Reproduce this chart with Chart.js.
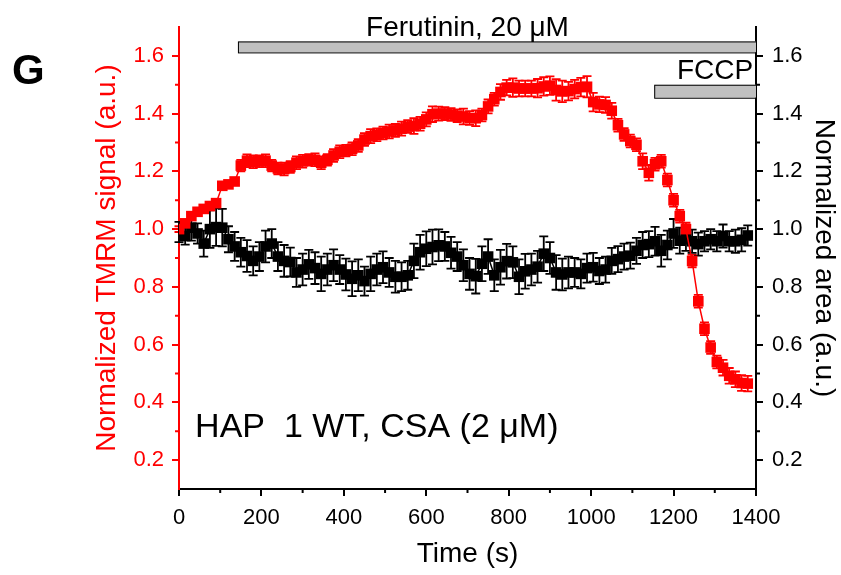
<!DOCTYPE html>
<html>
<head>
<meta charset="utf-8">
<script src="https://cdn.jsdelivr.net/npm/chart.js@4.4.1/dist/chart.umd.min.js"></script>
<style>
  html, body { margin: 0; padding: 0; background: #fff; }
  canvas { display: block; }
</style>
</head>
<body>
<canvas id="chart_tmrm" width="841" height="575"></canvas>
<script>
// time points (s)
const time = [0, 15, 30, 45, 60, 75, 90, 105, 120, 135,
  150, 165, 180, 195, 210, 225, 240, 255, 270, 285,
  300, 315, 330, 345, 360, 375, 390, 405, 420, 435,
  450, 465, 480, 495, 510, 525, 540, 555, 570, 585,
  600, 615, 630, 645, 660, 675, 690, 705, 720, 735,
  750, 765, 780, 795, 810, 825, 840, 855, 870, 885,
  900, 915, 930, 945, 960, 975, 990, 1005, 1020, 1035,
  1050, 1065, 1080, 1095, 1110, 1125, 1140, 1155, 1170, 1185,
  1200, 1215, 1230, 1245, 1260, 1275, 1290, 1305, 1320, 1335,
  1350, 1365, 1380];

// normalized TMRM signal (left axis, red)
const tmrm = [1.00, 1.02, 1.045, 1.06, 1.07, 1.08, 1.09, 1.15, 1.155, 1.165,
  1.22, 1.237, 1.233, 1.235, 1.237, 1.22, 1.21, 1.208, 1.215, 1.23,
  1.235, 1.24, 1.24, 1.23, 1.24, 1.255, 1.268, 1.272, 1.278, 1.29,
  1.31, 1.322, 1.327, 1.333, 1.338, 1.342, 1.348, 1.355, 1.357, 1.365,
  1.38, 1.398, 1.40, 1.40, 1.397, 1.393, 1.39, 1.385, 1.384, 1.395,
  1.425, 1.45, 1.475, 1.49, 1.49, 1.487, 1.487, 1.487, 1.488, 1.494,
  1.497, 1.482, 1.477, 1.478, 1.485, 1.492, 1.493, 1.44, 1.432, 1.43,
  1.41, 1.36, 1.328, 1.305, 1.292, 1.235, 1.195, 1.225, 1.235, 1.17,
  1.10, 1.045, 1.0, 0.89, 0.75, 0.655, 0.59, 0.54, 0.52, 0.492,
  0.48, 0.467, 0.465];
const tmrmErr = [0.01, 0.01, 0.01, 0.01, 0.01, 0.01, 0.01, 0.012, 0.012, 0.012,
  0.02, 0.022, 0.022, 0.02, 0.022, 0.02, 0.02, 0.022, 0.02, 0.022,
  0.022, 0.02, 0.022, 0.022, 0.02, 0.022, 0.022, 0.02, 0.022, 0.022,
  0.022, 0.024, 0.022, 0.022, 0.024, 0.022, 0.024, 0.022, 0.027, 0.024,
  0.024, 0.027, 0.024, 0.022, 0.022, 0.022, 0.027, 0.024, 0.027, 0.022,
  0.024, 0.022, 0.027, 0.027, 0.032, 0.027, 0.027, 0.027, 0.032, 0.032,
  0.032, 0.037, 0.037, 0.032, 0.032, 0.032, 0.037, 0.032, 0.027, 0.027,
  0.027, 0.022, 0.022, 0.022, 0.022, 0.027, 0.027, 0.022, 0.022, 0.022,
  0.022, 0.022, 0.022, 0.022, 0.022, 0.022, 0.022, 0.022, 0.027, 0.027,
  0.027, 0.027, 0.027];

// normalized area (right axis, black)
const area = [0.99, 0.976, 1.005, 0.985, 0.95, 1.0, 1.007, 1.005, 0.965, 0.94,
  0.92, 0.907, 0.89, 0.905, 0.94, 0.95, 0.905, 0.89, 0.886, 0.85,
  0.86, 0.878, 0.865, 0.845, 0.86, 0.875, 0.86, 0.843, 0.828, 0.84,
  0.82, 0.845, 0.86, 0.868, 0.85, 0.835, 0.835, 0.84, 0.89, 0.92,
  0.932, 0.938, 0.944, 0.94, 0.918, 0.905, 0.875, 0.845, 0.837, 0.88,
  0.905, 0.84, 0.868, 0.889, 0.885, 0.835, 0.854, 0.86, 0.87, 0.915,
  0.9, 0.85, 0.843, 0.85, 0.85, 0.845, 0.865, 0.868, 0.855, 0.86,
  0.89, 0.896, 0.905, 0.908, 0.925, 0.945, 0.948, 0.958, 0.925, 0.945,
  0.985, 0.96, 0.965, 0.958, 0.948, 0.958, 0.965, 0.958, 0.976, 0.958,
  0.958, 0.963, 0.978];
const areaErr = [0.035, 0.03, 0.045, 0.035, 0.045, 0.065, 0.065, 0.065, 0.045, 0.05,
  0.05, 0.055, 0.05, 0.05, 0.055, 0.05, 0.05, 0.055, 0.05, 0.05,
  0.055, 0.05, 0.055, 0.06, 0.055, 0.055, 0.05, 0.055, 0.06, 0.055,
  0.05, 0.06, 0.055, 0.055, 0.05, 0.055, 0.05, 0.05, 0.06, 0.06,
  0.06, 0.06, 0.055, 0.05, 0.055, 0.05, 0.055, 0.055, 0.06, 0.06,
  0.06, 0.055, 0.06, 0.06, 0.055, 0.06, 0.06, 0.055, 0.055, 0.06,
  0.055, 0.06, 0.055, 0.055, 0.05, 0.05, 0.05, 0.05, 0.045, 0.045,
  0.045, 0.045, 0.045, 0.045, 0.045, 0.045, 0.045, 0.05, 0.055, 0.05,
  0.05, 0.045, 0.04, 0.04, 0.04, 0.035, 0.035, 0.035, 0.04, 0.035,
  0.04, 0.04, 0.035];

// ticks
const xTicks = [0, 200, 400, 600, 800, 1000, 1200, 1400];
const xMinor = [100, 300, 500, 700, 900, 1100, 1300];
const yTicks = [0.2, 0.4, 0.6, 0.8, 1.0, 1.2, 1.4, 1.6];
const yMinor = [0.3, 0.5, 0.7, 0.9, 1.1, 1.3, 1.5];

// treatment bars: [start s, end s], [low, high] on the left axis
const ferutininX = [143, 1400];
const ferutininY = [1.612, 1.65];
const fccpX = [1153, 1400];
const fccpY = [1.455, 1.50];

const RED = '#ff0000';
const FONT = 'Liberation Sans, Arial, sans-serif';

const errorBars = {
  id: 'errorBars',
  beforeDatasetsDraw(chart) {
    const { ctx } = chart;
    chart.data.datasets.forEach((ds, i) => {
      const meta = chart.getDatasetMeta(i);
      const ys = chart.scales[ds.yAxisID];
      ctx.save();
      ctx.strokeStyle = ds.borderColor;
      ctx.lineWidth = 1.8;
      meta.data.forEach((pt, j) => {
        const v = ds.data[j].y;
        const e = ds.errors[j];
        const top = ys.getPixelForValue(v + e);
        const bot = ys.getPixelForValue(v - e);
        ctx.beginPath();
        ctx.moveTo(pt.x, top); ctx.lineTo(pt.x, bot);
        ctx.moveTo(pt.x - 4.5, top); ctx.lineTo(pt.x + 4.5, top);
        ctx.moveTo(pt.x - 4.5, bot); ctx.lineTo(pt.x + 4.5, bot);
        ctx.stroke();
      });
      ctx.restore();
    });
  }
};

const decorations = {
  id: 'decorations',
  afterDraw(chart) {
    const { ctx, chartArea } = chart;
    const x = chart.scales.x, y = chart.scales.y;
    ctx.save();

    // minor ticks
    ctx.lineWidth = 2;
    ctx.strokeStyle = RED;
    yMinor.forEach(v => {
      const py = y.getPixelForValue(v);
      ctx.beginPath(); ctx.moveTo(chartArea.left - 4, py); ctx.lineTo(chartArea.left, py); ctx.stroke();
    });
    ctx.strokeStyle = '#000';
    yMinor.forEach(v => {
      const py = y.getPixelForValue(v);
      ctx.beginPath(); ctx.moveTo(chartArea.right, py); ctx.lineTo(chartArea.right + 4, py); ctx.stroke();
    });
    xMinor.forEach(v => {
      const px = x.getPixelForValue(v);
      ctx.beginPath(); ctx.moveTo(px, chartArea.bottom); ctx.lineTo(px, chartArea.bottom + 4); ctx.stroke();
    });

    // treatment bars
    ctx.lineWidth = 1;
    [[ferutininX, ferutininY], [fccpX, fccpY]].forEach(([bx, by]) => {
      const x0 = x.getPixelForValue(bx[0]), x1 = x.getPixelForValue(bx[1]);
      const y0 = y.getPixelForValue(by[1]), y1 = y.getPixelForValue(by[0]);
      ctx.fillStyle = '#c0c0c0';
      ctx.fillRect(x0, y0, x1 - x0, y1 - y0);
      ctx.strokeStyle = '#000';
      ctx.strokeRect(x0 + 0.5, y0 + 0.5, x1 - x0, y1 - y0);
    });

    // labels
    ctx.fillStyle = '#000';
    ctx.textBaseline = 'middle';
    ctx.font = '28px ' + FONT;
    ctx.textAlign = 'center';
    ctx.fillText('Ferutinin, 20 \u03bcM', x.getPixelForValue(700), y.getPixelForValue(1.695));
    ctx.textAlign = 'right';
    ctx.fillText('FCCP', x.getPixelForValue(1393), y.getPixelForValue(1.545));
    ctx.textAlign = 'left';
    ctx.font = '34px ' + FONT;
    ctx.fillText('HAP  1 WT, CSA (2 \u03bcM)', x.getPixelForValue(39), y.getPixelForValue(0.311));
    ctx.font = 'bold 42px ' + FONT;
    ctx.fillText('G', 12, 72);
    ctx.restore();
  }
};

const ctx = document.getElementById('chart_tmrm');

new Chart(ctx, {
  type: 'line',
  data: {
    datasets: [
      {
        label: 'TMRM',
        data: time.map((t, i) => ({ x: t, y: tmrm[i] })),
        errors: tmrmErr,
        yAxisID: 'y',
        borderColor: RED,
        backgroundColor: RED,
        borderWidth: 1.5,
        pointStyle: 'rect',
        pointRadius: 7.5,
        pointBorderWidth: 0,
      },
      {
        label: 'Area',
        data: time.map((t, i) => ({ x: t, y: area[i] })),
        errors: areaErr,
        yAxisID: 'y1',
        borderColor: '#000',
        backgroundColor: '#000',
        borderWidth: 1.5,
        pointStyle: 'rect',
        pointRadius: 7.5,
        pointBorderWidth: 0,
      },
    ],
  },
  options: {
    responsive: false,
    animation: false,
    layout: { padding: { top: 27, left: 0, right: 0, bottom: 0 } },
    plugins: { legend: { display: false }, tooltip: { enabled: false } },
    scales: {
      x: {
        type: 'linear',
        min: 0,
        max: 1400,
        afterBuildTicks: s => { s.ticks = xTicks.map(v => ({ value: v })); },
        afterFit: s => { s.height = 86; },
        border: { color: '#000', width: 2 },
        grid: { drawOnChartArea: false, color: '#000', tickLength: 7, lineWidth: 2 },
        ticks: { color: '#000', font: { family: FONT, size: 22 }, padding: 9, maxRotation: 0, callback: v => String(v) },
        title: { display: true, text: 'Time (s)', color: '#000', font: { family: FONT, size: 28 }, padding: { bottom: 4 } },
      },
      y: {
        position: 'left',
        min: 0.1,
        max: 1.7,
        afterBuildTicks: s => { s.ticks = yTicks.map(v => ({ value: v })); },
        afterFit: s => { s.width = 179; },
        border: { color: RED, width: 2 },
        grid: { drawOnChartArea: false, color: RED, tickLength: 7, lineWidth: 2 },
        ticks: { color: RED, font: { family: FONT, size: 22 }, padding: 8, callback: v => v.toFixed(1) },
        title: { display: true, text: 'Normalized TMRM signal (a.u.)', color: RED, font: { family: FONT, size: 28 }, padding: { top: 90 } },
      },
      y1: {
        position: 'right',
        min: 0.1,
        max: 1.7,
        afterBuildTicks: s => { s.ticks = yTicks.map(v => ({ value: v })); },
        afterFit: s => { s.width = 85; },
        border: { color: '#000', width: 2 },
        grid: { drawOnChartArea: false, color: '#000', tickLength: 7, lineWidth: 2 },
        ticks: { color: '#000', font: { family: FONT, size: 22 }, padding: 9, callback: v => v.toFixed(1) },
        title: { display: true, text: 'Normalized area (a.u.)', color: '#000', font: { family: FONT, size: 28 }, padding: { top: 0 } },
      },
    },
  },
  plugins: [errorBars, decorations],
});
</script>
</body>
</html>
